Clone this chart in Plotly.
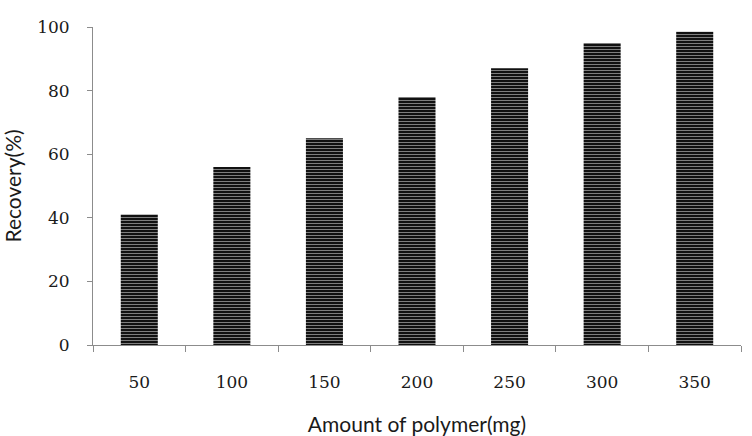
import plotly.graph_objects as go

categories = ["50", "100", "150", "200", "250", "300", "350"]
recovery = [41, 56, 65, 78, 87, 95, 98.5]
y_ticks = [0, 20, 40, 60, 80, 100]

fig = go.Figure(go.Bar(
    x=categories, y=recovery,
    marker=dict(color="black", line=dict(width=0),
                pattern=dict(shape="-", bgcolor="#111111", fgcolor="#8a8a8a",
                             size=3, solidity=0.3, fillmode="replace")),
))

fig.update_layout(
    width=752, height=436,
    margin=dict(l=93, r=11, t=27, b=91),
    paper_bgcolor="white", plot_bgcolor="white",
    bargap=0.6, showlegend=False,
    font=dict(family="DejaVu Serif", color="#222222"),
)
fig.update_xaxes(
    type="category", tickson="boundaries", automargin=False,
    showline=True, linecolor="#8c8c8c", linewidth=1,
    ticks="outside", ticklen=6, tickcolor="#8c8c8c",
    tickfont=dict(family="DejaVu Serif", size=17, color="#1a1a1a"),
    ticklabelstandoff=22,
    title=dict(text="Amount of polymer(mg)",
               font=dict(family="Lato", size=21, color="#1a1a1a"), standoff=26),
    showgrid=False,
)
fig.update_yaxes(
    range=[0, 100], tickvals=y_ticks, automargin=False,
    showline=True, linecolor="#8c8c8c", linewidth=1,
    ticks="outside", ticklen=5, tickcolor="#8c8c8c",
    tickfont=dict(family="DejaVu Serif", size=17, color="#1a1a1a"),
    ticklabelstandoff=14,
    title=dict(text="Recovery(%)",
               font=dict(family="Lato", size=21, color="#1a1a1a"), standoff=14),
    showgrid=False, zeroline=False,
)

fig.write_html("out.html")
